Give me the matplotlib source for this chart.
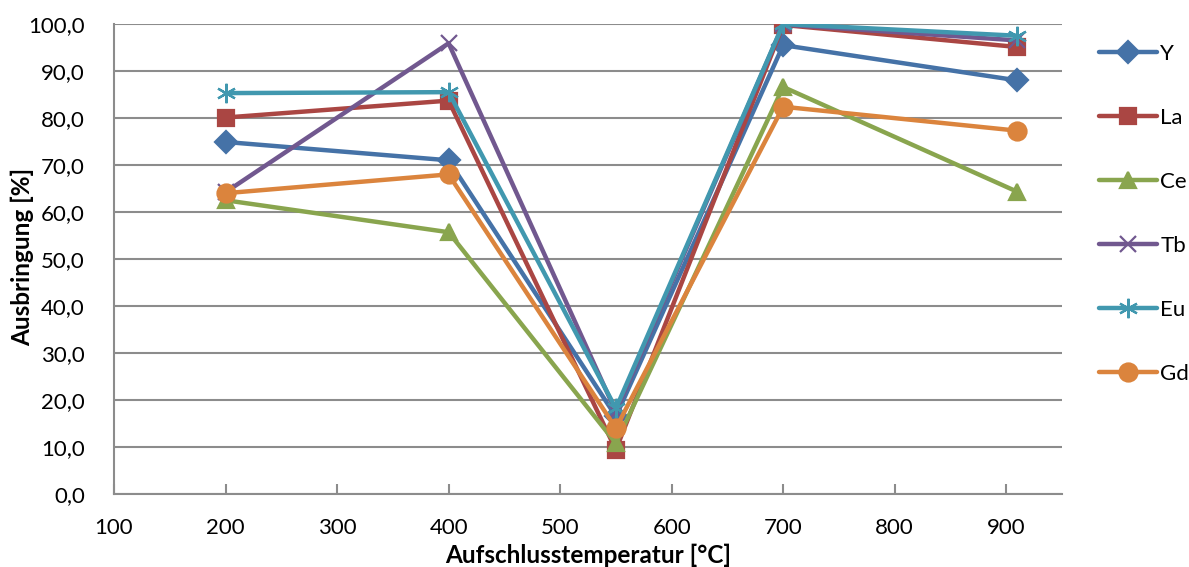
import matplotlib.pyplot as plt
from matplotlib.ticker import FuncFormatter

plt.rcParams['font.family'] = ['Lato', 'DejaVu Sans']

temps = [200, 400, 550, 700, 910]
y_vals = [74.9, 71.0, 16.5, 95.5, 88.0]
la_vals = [80.1, 83.7, 9.4, 99.8, 95.1]
ce_vals = [62.5, 55.7, 10.8, 86.6, 64.3]
tb_vals = [64.2, 95.9, 17.5, 99.9, 96.5]
eu_vals = [85.3, 85.5, 18.2, 100.0, 97.5]
gd_vals = [64.0, 68.0, 14.0, 82.4, 77.3]

names = ['Y', 'La', 'Ce', 'Tb', 'Eu', 'Gd']
values = [y_vals, la_vals, ce_vals, tb_vals, eu_vals, gd_vals]
colors = ['#4572A7', '#AA4643', '#89A54E', '#71588F', '#4198AF', '#DB843D']
markers = ['D', 's', '^', 'x', (6, 2, 0), 'o']
msizes = [11, 12, 12, 12, 14, 13]

fig = plt.figure(figsize=(11.89, 5.67), dpi=100)
ax = fig.add_axes([114/1189, 1 - 494/567, (1062 - 114)/1189, (494 - 24)/567])

for name, vals, col, mk, ms in zip(names, values, colors, markers, msizes):
    ax.plot(temps, vals, color=col, lw=3.2, marker=mk, ms=ms, mec=col, mew=1.6,
            label=name, solid_capstyle='round', solid_joinstyle='round')

ax.set_xlim(100, 950)
ax.set_ylim(0, 100)
ax.set_xticks(range(100, 901, 100))
ax.set_yticks(range(0, 101, 10))
ax.yaxis.set_major_formatter(FuncFormatter(lambda v, p: f'{v:.1f}'.replace('.', ',')))
ax.grid(axis='y', color='#8c8c8c', lw=1.5)
ax.set_axisbelow(True)
for s in ['top', 'right']:
    ax.spines[s].set_visible(False)
for s in ['left', 'bottom']:
    ax.spines[s].set_color('#8c8c8c')
    ax.spines[s].set_linewidth(1.5)
ax.tick_params(axis='x', direction='in', length=7, width=1.5, color='#8c8c8c', labelsize=16, pad=17)
ax.tick_params(axis='y', direction='out', length=0, labelsize=16, pad=21)

ax.set_xlabel('Aufschlusstemperatur [°C]', fontsize=17.5, fontweight='bold')
ax.xaxis.set_label_coords(0.5, -0.106)
ax.set_ylabel('Ausbringung [%]', fontsize=17.5, fontweight='bold')
ax.yaxis.set_label_coords(-0.084, 0.505)

ax.legend(loc='upper left', bbox_to_anchor=(1.03, 0.977), frameon=False, fontsize=16,
          handlelength=2.6, handletextpad=0.15, labelspacing=1.98, borderaxespad=0)

fig.savefig('out.png', dpi=100)
